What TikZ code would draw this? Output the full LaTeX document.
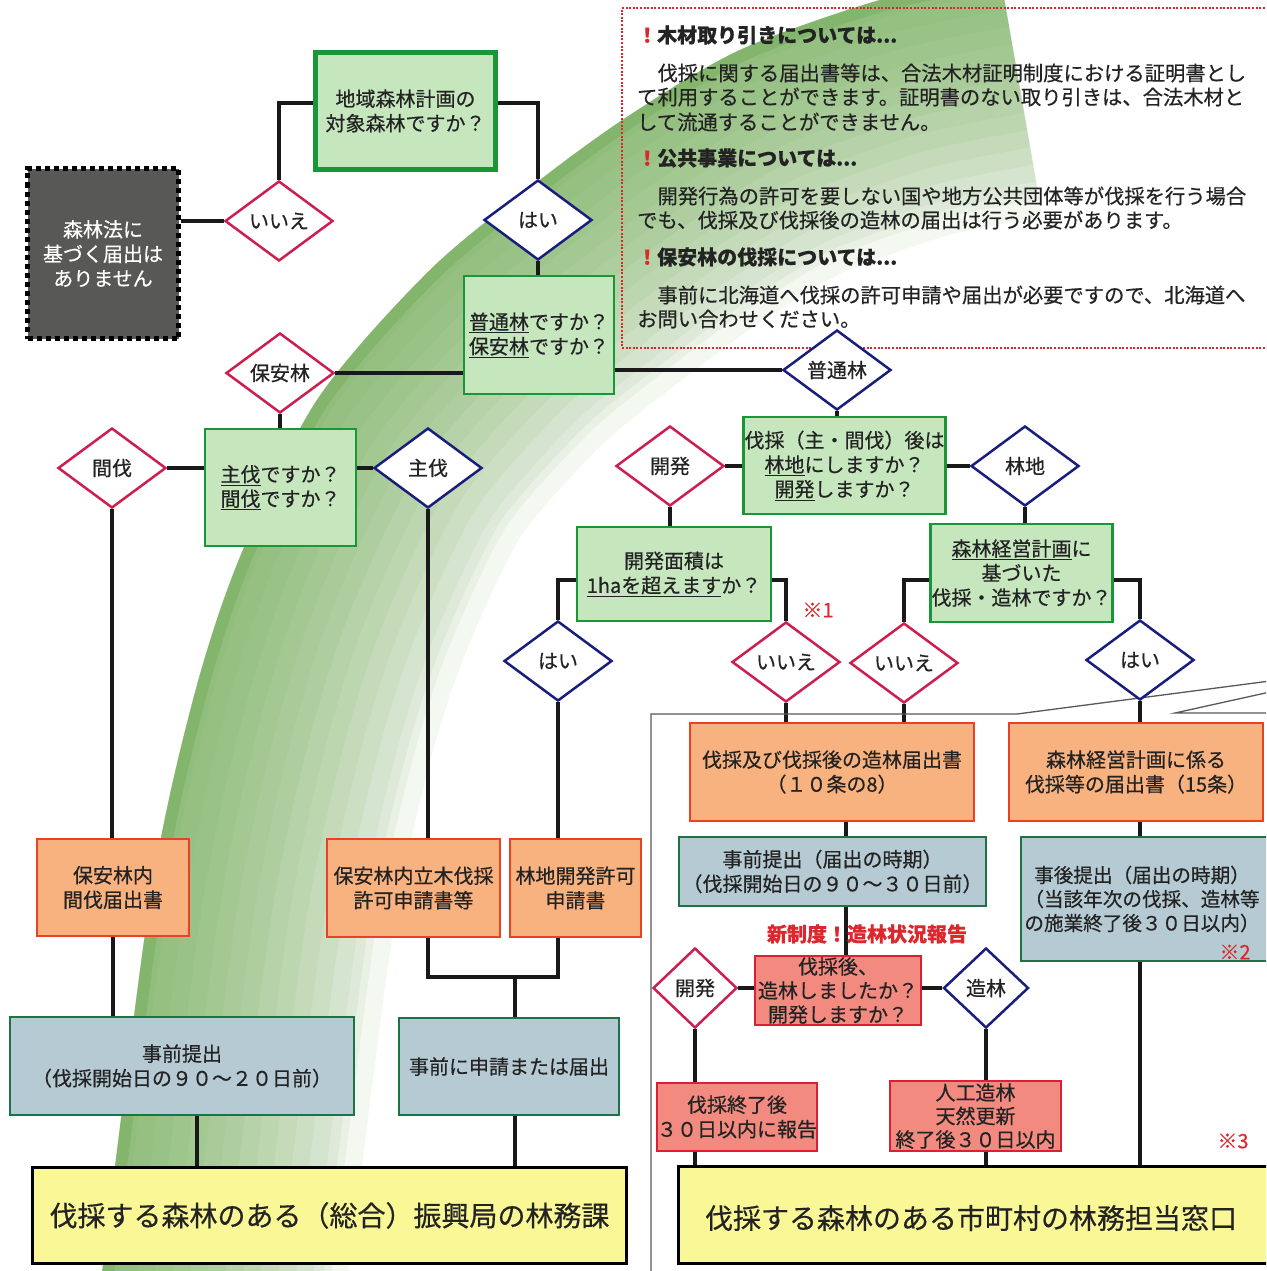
\documentclass[tikz,border=0pt]{standalone}
\usepackage{fontspec}
\setmainfont{Noto Sans CJK JP}[FakeBold=0.5]
\usetikzlibrary{shapes.geometric}
\definecolor{ink}{RGB}{35,35,35}
\definecolor{gfill}{RGB}{198,230,190}
\definecolor{gborder}{RGB}{25,150,55}
\definecolor{ofill}{RGB}{248,178,128}
\definecolor{oborder}{RGB}{232,65,35}
\definecolor{bfill}{RGB}{182,202,212}
\definecolor{bborder}{RGB}{30,115,70}
\definecolor{rfill}{RGB}{242,138,128}
\definecolor{rborder}{RGB}{222,30,55}
\definecolor{yfill}{RGB}{250,248,150}
\definecolor{dred}{RGB}{205,30,80}
\definecolor{dblue}{RGB}{25,30,125}
\definecolor{nred}{RGB}{220,40,45}
\definecolor{dgray}{RGB}{88,88,86}
\definecolor{bandgreen}{RGB}{105,170,75}
\pgfdeclarelayer{deco}
\pgfdeclarelayer{bg}
\pgfsetlayers{deco,bg,main}
\begin{document}
\begin{tikzpicture}[x=1pt,y=-1pt,
  txt/.style={font=\fontsize{20}{24.5}\selectfont, text=ink, align=center},
  sz/.style 2 args={minimum width=#1pt, minimum height=#2pt},
  box/.style={txt, rectangle, draw, line width=2.5pt, inner sep=1pt},
  gbox/.style={box, draw=gborder, fill=gfill},
  obox/.style={box, draw=oborder, fill=ofill},
  bbox/.style={box, draw=bborder, fill=bfill},
  rbox/.style={box, draw=rborder, fill=rfill, inner sep=0pt},
  ybox/.style={box, draw=black, line width=3pt, fill=yfill, font=\fontsize{28}{32}\selectfont},
  dia/.style={diamond, aspect=1.35, txt, fill=white, line width=2.5pt, inner sep=0pt, minimum width=108pt, minimum height=80pt},
  ndia/.style={dia, draw=dred},
  ydia/.style={dia, draw=dblue},
  conn/.style={line width=3.6pt, draw=black!90},
  notemk/.style={text=nred, font=\fontsize{20}{24}\selectfont, inner sep=0pt},
  para/.style={anchor=west, inner sep=0pt, text=ink, font=\fontsize{20.3}{24}\selectfont},
  head/.style={para, font=\fontsize{20}{24}\selectfont\bfseries}
]
\useasboundingbox (0,0) rectangle (1266,1271);

% ---------- decorative green band ----------
\begin{pgfonlayer}{deco}
\fill[white] (0,0) rectangle (1266,1271);
\begin{scope}
\clip (0,0) rectangle (1266,1271);
\clip plot[smooth] coordinates {(100,1290) (150,900) (193,700) (240,557) (317,400) (430,270) (540,180) (630,115) (740,50) (880,0) (1000,-25)} -- (1300,-25) -- (1300,1300) -- cycle;
\draw[line width=440pt, black!35, opacity=0.10] plot[smooth] coordinates {(100,1290) (150,900) (193,700) (240,557) (317,400) (430,270) (540,180) (630,115) (740,50) (880,0) (1000,-25)};
\draw[line width=24pt, bandgreen, opacity=0.3] plot[smooth] coordinates {(100,1290) (150,900) (193,700) (240,557) (317,400) (430,270) (540,180) (630,115) (740,50) (880,0) (1000,-25)};
\foreach \i in {1,...,14}
  \draw[line width=35*\i pt, bandgreen, opacity=0.08] plot[smooth] coordinates {(100,1290) (150,900) (193,700) (240,557) (317,400) (430,270) (540,180) (630,115) (740,50) (880,0) (1000,-25)};
\end{scope}
\end{pgfonlayer}

\clip (0,0) rectangle (1266,1271);

% ---------- note box (top right) ----------
\node[draw=nred, dash pattern=on 2pt off 1.6pt, line width=2.5pt, sz={668}{340}, inner sep=0pt] (tb) at (956,178) {};
\node[head] (h1) at (637,35) {\textcolor{nred}{！}木材取り引きについては...};
\node[para] (p1a) at (637,73) {　伐採に関する届出書等は、合法木材証明制度における証明書とし};
\node[para] (p1b) at (637,97) {て利用することができます。証明書のない取り引きは、合法木材と};
\node[para] (p1c) at (637,122) {して流通することができません。};
\node[head] (h2) at (637,158) {\textcolor{nred}{！}公共事業については...};
\node[para] (p2a) at (637,196) {　開発行為の許可を要しない国や地方公共団体等が伐採を行う場合};
\node[para] (p2b) at (637,220) {でも、伐採及び伐採後の造林の届出は行う必要があります。};
\node[head] (h3) at (637,257) {\textcolor{nred}{！}保安林の伐採については...};
\node[para] (p3a) at (637,295) {　事前に北海道へ伐採の許可申請や届出が必要ですので、北海道へ};
\node[para] (p3b) at (637,319) {お問い合わせください。};

% ---------- left part ----------
\node[gbox, line width=5pt, sz={180}{117}] (q1) at (405.5,111) {地域森林計画の\\対象森林ですか？};
\node[txt, rectangle, fill=dgray, text=white, draw=black, line width=5pt, dash pattern=on 5pt off 4pt, sz={151}{170}] (nof) at (103,253.5) {森林法に\\基づく届出は\\ありません};
\node[ndia] (dno1) at (279,221) {いいえ};
\node[ydia] (dy1) at (538,220) {はい};
\node[gbox, sz={150}{118}] (q2) at (539,335) {\underline{普通林}ですか？\\\underline{保安林}ですか？};
\node[ndia] (dhoan) at (280,373) {保安林};
\node[ydia] (dfut) at (837,370) {普通林};
\node[gbox, sz={151}{117}] (q3) at (280.5,487.5) {\underline{主伐}ですか？\\\underline{間伐}ですか？};
\node[ndia] (dkan) at (112,468) {間伐};
\node[ydia] (dshu) at (428,468) {主伐};
\node[obox, sz={152}{97}] (o1) at (113,887.5) {保安林内\\間伐届出書};
\node[obox, sz={173}{98}] (o2) at (413.5,888) {保安林内立木伐採\\許可申請書等};
\node[obox, sz={131}{98}] (o3) at (575.5,888) {林地開発許可\\申請書};
\node[ydia] (dy2) at (558,661) {はい};
\node[bbox, sz={344}{98}] (b1) at (182,1066) {事前提出\\（伐採開始日の９０～２０日前）};
\node[bbox, sz={220}{97}] (b2) at (509,1066.5) {事前に申請または届出};
\node[ybox, sz={594}{96}] (y1) at (329.5,1215.5) {伐採する森林のある（総合）振興局の林務課};

% ---------- right part ----------
\node[gbox, sz={201}{97}] (q4) at (844.5,465.5) {伐採（主・間伐）後は\\\underline{林地}にしますか？\\\underline{開発}しますか？};
\node[ndia] (dkai1) at (670,466) {開発};
\node[ydia] (drin) at (1025,466) {林地};
\node[gbox, sz={194}{94}] (q5) at (674,574) {開発面積は\\\underline{1haを超えます}か？};
\node[ndia] (dno2) at (786,662) {いいえ};
\node[gbox, sz={181}{98}] (q6) at (1021.5,573) {\underline{森林経営計画}に\\基づいた\\伐採・造林ですか？};
\node[ndia] (dno3) at (904,663) {いいえ};
\node[ydia] (dy3) at (1140,660) {はい};
\node[obox, sz={284}{98}] (o4) at (832,772) {伐採及び伐採後の造林届出書\\（１０条の8）};
\node[obox, sz={254}{98}] (o5) at (1136,772) {森林経営計画に係る\\伐採等の届出書（15条）};
\node[bbox, sz={307}{69}] (b3) at (832.5,871.5) {事前提出（届出の時期）\\（伐採開始日の９０～３０日前）};
\node[rbox, sz={166}{69}, font=\fontsize{20}{24}\selectfont] (r1) at (838,990.5) {伐採後、\\造林しましたか？\\開発しますか？};
\node[ndia, minimum width=84pt] (dkai2) at (695,988) {開発};
\node[ydia, minimum width=85pt] (dzou) at (986,988) {造林};
\node[rbox, sz={160}{68}] (r2) at (737,1117) {伐採終了後\\３０日以内に報告};
\node[rbox, sz={171}{70}, font=\fontsize{20}{23.5}\selectfont] (r3) at (975.5,1116) {人工造林\\天然更新\\終了後３０日以内};
\node[bbox, sz={258}{124}] (b4) at (1150,899) {};
\node[txt, inner sep=0pt, font=\fontsize{19.6}{24}\selectfont] (b4t) at (1142,899) {事後提出（届出の時期）\\（当該年次の伐採、造林等\\の施業終了後３０日以内）};
\node[ybox, sz={612}{97}] (y2) at (984,1215) {};
\node[txt, font=\fontsize{28}{32}\selectfont, inner sep=0pt] (y2t) at (971,1218) {伐採する森林のある市町村の林務担当窓口};

\node[notemk] (n1) at (818,610) {※1};
\node[notemk] (n2) at (1235,952) {※2};
\node[notemk] (n3) at (1233,1141) {※3};

% ---------- connectors ----------
\begin{pgfonlayer}{bg}
\draw[conn] ([yshift=8pt]q1.west) -| (dno1.north);
\draw[conn] ([yshift=8pt]q1.east) -| (dy1.north);
\draw[conn] (dno1.west) -- (dno1.west -| nof.east);
\draw[conn] (dy1.south) -- (dy1.south |- q2.north);
\draw[conn] (dhoan.east) -- (dhoan.east -| q2.west);
\draw[conn] (dfut.west) -- (dfut.west -| q2.east);
\draw[conn] (dhoan.south) -- (dhoan.south |- q3.north);
\draw[conn] (dkan.east) -- (dkan.east -| q3.west);
\draw[conn] (dshu.west) -- (dshu.west -| q3.east);
\draw[conn] (dkan.south) -- (dkan.south |- o1.north);
\draw[conn] (dshu.south) -- (dshu.south |- o2.north);
\draw[conn] (dy2.south) -- (dy2.south |- o3.north);
\draw[conn] (o1.south) -- (o1.south |- b1.north);
\coordinate (jn) at (515,977);
\draw[conn] (o2.south -| dshu.south) |- (jn) -| (o3.south -| dy2.south);
\draw[conn] (jn) -- (jn |- b2.north);
\draw[conn] ([xshift=15pt]b1.south) -- ([xshift=15pt]b1.south |- y1.north);
\draw[conn] (b2.south -| jn) -- (jn |- y1.north);
\draw[conn] (dfut.south) -- (dfut.south |- q4.north);
\draw[conn] (dkai1.east) -- (dkai1.east -| q4.west);
\draw[conn] (drin.west) -- (drin.west -| q4.east);
\draw[conn] (dkai1.south) -- (dkai1.south |- q5.north);
\draw[conn] ([yshift=-6pt]q5.west) -| (dy2.north);
\draw[conn] ([yshift=-6pt]q5.east) -| (dno2.north);
\draw[conn] (drin.south) -- (drin.south |- q6.north);
\draw[conn] ([yshift=-7pt]q6.west) -| (dno3.north);
\draw[conn] ([yshift=-7pt]q6.east) -| (dy3.north);
\draw[conn] (dno2.south) -- (dno2.south |- o4.north);
\draw[conn] (dno3.south) -- (dno3.south |- o4.north);
\draw[conn] (dy3.south) -- (dy3.south |- o5.north);
\draw[conn] ([xshift=14pt]o4.south) -- ([xshift=14pt]o4.south |- b3.north);
\draw[conn] ([xshift=13.5pt]b3.south) -- ([xshift=13.5pt]b3.south |- r1.north);
\draw[conn] (dkai2.east) -- (dkai2.east -| r1.west);
\draw[conn] (dzou.west) -- (dzou.west -| r1.east);
\draw[conn] (dkai2.south) -- (dkai2.south |- r2.north);
\draw[conn] (dzou.south) -- (dzou.south |- r3.north);
\draw[conn] (r2.south -| dkai2.south) -- (dkai2.south |- y2.north);
\draw[conn] (r3.south -| dzou.south) -- (dzou.south |- y2.north);
\draw[conn] (o5.south -| dy3.south) -- (dy3.south |- b4.north);
\draw[conn] (b4.south -| dy3.south) -- (dy3.south |- y2.north);
% callout outline
\begin{scope}
\clip (0,0) rectangle (1266,1271);
\draw[line width=1.3pt, black!65] (651,1275) -- (651,714) -- (1017,714) -- (1270,681);
\draw[line width=1.3pt, black!65] (1270,692) -- (1175,713) -- (1270,713);
\end{scope}
\end{pgfonlayer}

\node[font=\fontsize{20}{24}\selectfont\bfseries, text=nred, inner sep=0pt] (newl) at (867,934) {新制度！造林状況報告};
\end{tikzpicture}
\end{document}
